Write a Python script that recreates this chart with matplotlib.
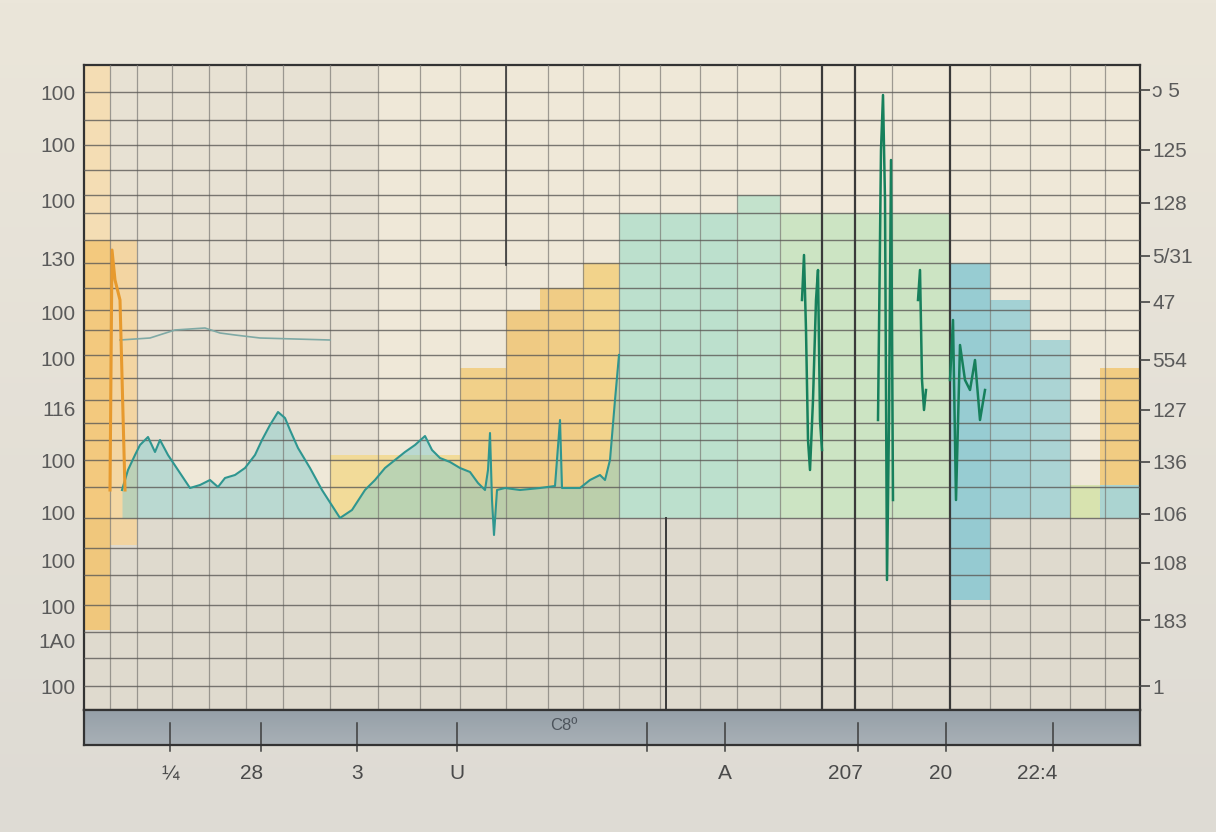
import matplotlib.pyplot as plt
import numpy as np

plt.rcParams['font.family'] = ['Liberation Sans', 'DejaVu Sans']

# ---- data (x: 0..1056 across the plot, y: 0..645 up the plot) ----
grid_x = [26, 53, 88, 125, 162, 199, 246, 294, 336, 376, 422, 464, 499, 535,
          576, 616, 653, 696, 808, 906, 946, 986, 1021]
grid_y = [618, 590, 565, 540, 515, 497, 470, 447, 422, 400, 380, 355, 332,
          310, 287, 270, 250, 223, 192, 162, 135, 105, 78, 52, 24]
dark_x = [738, 771, 866]

bar_left = [0, 0, 26, 246, 376, 422, 456, 499, 535, 653, 696, 866, 906, 946,
            986, 1016, 1016]
bar_width = [26, 26, 27, 130, 46, 34, 43, 36, 118, 43, 170, 40, 40, 40, 30, 40, 40]
bar_bottom = [470, 80, 165, 192, 192, 192, 192, 192, 192, 192, 192, 110, 192,
              192, 192, 225, 192]
bar_top = [645, 470, 470, 255, 342, 400, 422, 447, 497, 515, 497, 447, 410,
           370, 225, 342, 225]
bar_color = ['#f6dcae', '#f4c46e', '#f6d49a', '#f3d98e', '#f2cc7c', '#f0c574',
             '#f1c877', '#f3d07e', '#b4dfcc', '#bce2ca', '#c6e4c0', '#88c8d2',
             '#96cdd4', '#a0d1d4', '#d4e3a8', '#f2c873', '#9fd1d0']

line_x = [38, 44, 51, 56, 64, 71, 76, 84, 94, 106, 116, 126, 134, 141, 151, 161,
          171, 178, 186, 194, 201, 206, 214, 226, 238, 256, 268, 281, 291, 301,
          311, 321, 331, 341, 348, 356, 366, 376, 386, 394, 401, 404, 406, 408,
          410, 413, 421, 436, 456, 471, 476, 478, 496, 506, 516, 521, 526, 531, 535]
line_y = [220, 240, 255, 265, 273, 258, 270, 255, 240, 222, 225, 230, 223, 232,
          235, 242, 255, 270, 285, 298, 292, 280, 262, 242, 220, 192, 200, 220,
          230, 242, 250, 258, 265, 274, 260, 252, 248, 242, 238, 227, 220, 240,
          277, 210, 175, 220, 222, 220, 222, 224, 290, 222, 222, 230, 235, 230,
          250, 310, 355]

thin_x = [36, 66, 91, 121, 136, 151, 176, 246]
thin_y = [370, 372, 380, 382, 377, 375, 372, 370]

orange_x = [26, 28, 31, 36, 41]
orange_y = [220, 460, 430, 410, 220]

green_x = [718, 720, 722, 724, 726, 729, 732, 734, 736, 738, np.nan,
           794, 797, 799, 801, 803, 805, 807, 809, np.nan,
           834, 836, 838, 840, 842, np.nan,
           866, 869, 872, 876, 881, 886, 891, 896, 901]
green_y = [410, 455, 380, 270, 240, 310, 410, 440, 290, 260, np.nan,
           290, 560, 615, 510, 130, 290, 550, 210, np.nan,
           410, 440, 330, 300, 320, np.nan,
           330, 390, 210, 365, 330, 320, 350, 290, 320]

left_pos = [618, 565, 510, 452, 397, 352, 302, 250, 197, 150, 103, 70, 24]
left_lab = ['100', '100', '100', '130', '100', '100', '116', '100', '100',
            '100', '100', '1A0', '100']
right_pos = [620, 560, 507, 454, 408, 350, 300, 248, 196, 147, 90, 24]
right_lab = ['ɔ 5', '125', '128', '5/31', '47', '554', '127', '136', '106',
             '108', '183', '1']

band_ticks = [86, 177, 273, 373, 563, 641, 774, 862, 969]
bottom_pos = [86, 168, 273, 373, 641, 761, 857, 953]
bottom_lab = ['¼', '28', '3', 'U', 'A', '207', '20', '22:4']

# ---- figure ----
fig = plt.figure(figsize=(12.16, 8.32), dpi=100)

bg = fig.add_axes([0, 0, 1, 1], zorder=-10)
grad = np.linspace(0, 1, 256).reshape(-1, 1)
top_c = np.array([235, 230, 218]) / 255
bot_c = np.array([222, 219, 212]) / 255
img = top_c + (bot_c - top_c) * grad[:, :, None]
bg.imshow(img, aspect='auto', extent=[0, 1, 0, 1])
bg.axis('off')

ax = fig.add_axes([84 / 1216, 122 / 832, 1056 / 1216, 645 / 832])
ax.set_facecolor('#efe8d8')
ax.set_xlim(0, 1056)
ax.set_ylim(0, 645)

# greyish shading areas
ax.axhspan(0, 192, color='#c9c6c0', alpha=0.4, lw=0, zorder=0)
ax.fill_between([26, 294], 250, 645, color='#e0dbd0', alpha=0.5, lw=0, zorder=0)

ax.bar(bar_left, np.array(bar_top) - np.array(bar_bottom), width=bar_width,
       bottom=bar_bottom, align='edge', color=bar_color, alpha=0.85, lw=0,
       zorder=1)

# teal fill under the line
ax.fill_between(line_x, line_y, 192, color='#86cccc', alpha=0.5, lw=0, zorder=2)

for gx in grid_x:
    ax.axvline(gx, color='#7a7874', lw=0.9, alpha=0.7, zorder=3)
for gy in grid_y:
    ax.axhline(gy, color='#5c5a57', lw=1.0, alpha=0.8, zorder=3)
for dx in dark_x:
    ax.axvline(dx, color='#3a3a3a', lw=1.6, zorder=3)
ax.plot([582, 582], [0, 192], color='#3a3a3a', lw=1.4, zorder=3)
ax.plot([422, 422], [445, 645], color='#3a3a3a', lw=1.2, zorder=3)

ax.plot(thin_x, thin_y, color='#7fa9a5', lw=1.2, zorder=4)
ax.plot(line_x, line_y, color='#2f9690', lw=1.5, zorder=5)
ax.plot(orange_x, orange_y, color='#e79a2e', lw=2.2, zorder=5)
ax.plot(green_x, green_y, color='#17805c', lw=1.8, zorder=6)

for s in ax.spines.values():
    s.set_color('#333333')
    s.set_linewidth(1.6)
ax.set_xticks([])
ax.set_yticks(left_pos)
ax.set_yticklabels(left_lab, fontsize=15, color='#5a5a5a')
ax.tick_params(axis='y', length=0, pad=6)

ax2 = ax.twinx()
ax2.set_ylim(0, 645)
ax2.set_yticks(right_pos)
ax2.set_yticklabels(right_lab, fontsize=15, color='#5a5a5a')
ax2.tick_params(axis='y', length=7, width=1.2, color='#444444', pad=2)
for s in ax2.spines.values():
    s.set_visible(False)

# bottom band
band = fig.add_axes([84 / 1216, 87 / 832, 1056 / 1216, 35 / 832])
band.set_xlim(0, 1056)
band.set_ylim(0, 35)
grad2 = np.linspace(0, 1, 64).reshape(-1, 1)
c1 = np.array([150, 160, 168]) / 255
c2 = np.array([168, 176, 182]) / 255
band.imshow(c1 + (c2 - c1) * grad2[:, :, None], aspect='auto',
            extent=[0, 1056, 0, 35])
for bx in band_ticks:
    band.plot([bx, bx], [-6, 22], color='#3d3d3d', lw=1.1, clip_on=False)
band.text(480, 19, 'C8º', fontsize=12, color='#4d545c', ha='center',
          va='center')
band.set_xticks(bottom_pos)
band.set_xticklabels(bottom_lab, fontsize=15, color='#4a4a4a')
band.tick_params(axis='x', length=0, pad=14)
band.set_yticks([])
for s in band.spines.values():
    s.set_color('#333333')
    s.set_linewidth(1.6)

fig.savefig('out.png', dpi=100)
